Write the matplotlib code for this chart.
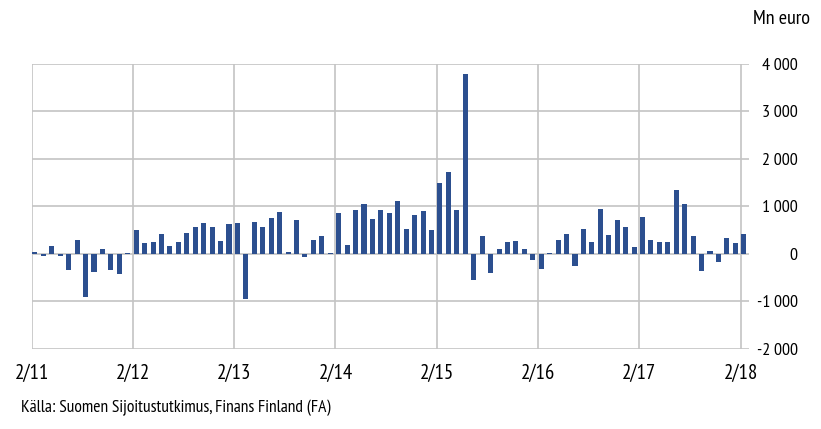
import numpy as np
import matplotlib.pyplot as plt

plt.rcParams['font.family'] = ['PT Sans Narrow', 'DejaVu Sans']

# Månadsvärden (Mn euro), 2/11 ... 2/18
y2011 = [40, -50, 175, -50, -330, 300, -900, -390, 100, -340, -425, 10]
y2012 = [510, 230, 260, 420, 175, 260, 433, 565, 640, 560, 270, 630]
y2013 = [655, -940, 675, 560, 745, 880, 40, 720, -75, 295, 385, 10]
y2014 = [850, 195, 915, 1055, 740, 930, 850, 1115, 530, 815, 895, 495]
y2015 = [1495, 1725, 915, 3775, -545, 370, -405, 100, 260, 270, 100, -120]
y2016 = [-315, 10, 285, 420, -260, 515, 260, 940, 405, 705, 575, 135]
y2017 = [770, 285, 240, 260, 1335, 1055, 375, -370, 70, -180, 340, 230]
y2018 = [410]

values = y2011 + y2012 + y2013 + y2014 + y2015 + y2016 + y2017 + y2018
xlabels = ['2/11', '2/12', '2/13', '2/14', '2/15', '2/16', '2/17', '2/18']
yticks = [-2000, -1000, 0, 1000, 2000, 3000, 4000]
ylabels = ['-2\u2009000', '-1\u2009000', '0', '1\u2009000', '2\u2009000', '3\u2009000', '4\u2009000']

fig = plt.figure(figsize=(8.21, 4.29), dpi=100)
ax = fig.add_axes([0.0386, 0.1865, 0.8737, 0.665])

x = np.arange(len(values))
ax.bar(x + 0.08, values, width=0.6, align='edge', color='#2c4f8f', zorder=3)

ax.set_xlim(0, 85)
ax.set_ylim(-2000, 4000)
ax.set_xticks(np.arange(0, 85, 12))
ax.set_xticklabels(xlabels, fontsize=15)
ax.set_yticks(yticks)
ax.set_yticklabels(ylabels, fontsize=13)
ax.yaxis.tick_right()
for lab in ax.get_yticklabels():
    lab.set_horizontalalignment('right')
ax.tick_params(axis='y', length=0, pad=35)
ax.tick_params(axis='x', length=0, pad=11)

ax.grid(True, color='#c4c4c4', linewidth=1.2, zorder=0)
for s in ['top', 'right', 'left', 'bottom']:
    ax.spines[s].set_visible(False)

fig.text(0.987, 0.955, 'Mn euro', ha='right', va='center', fontsize=14.5)
fig.text(0.026, 0.05, 'Källa: Suomen Sijoitustutkimus, Finans Finland (FA)', va='center', fontsize=12.6)

plt.savefig('out.png', dpi=100)
